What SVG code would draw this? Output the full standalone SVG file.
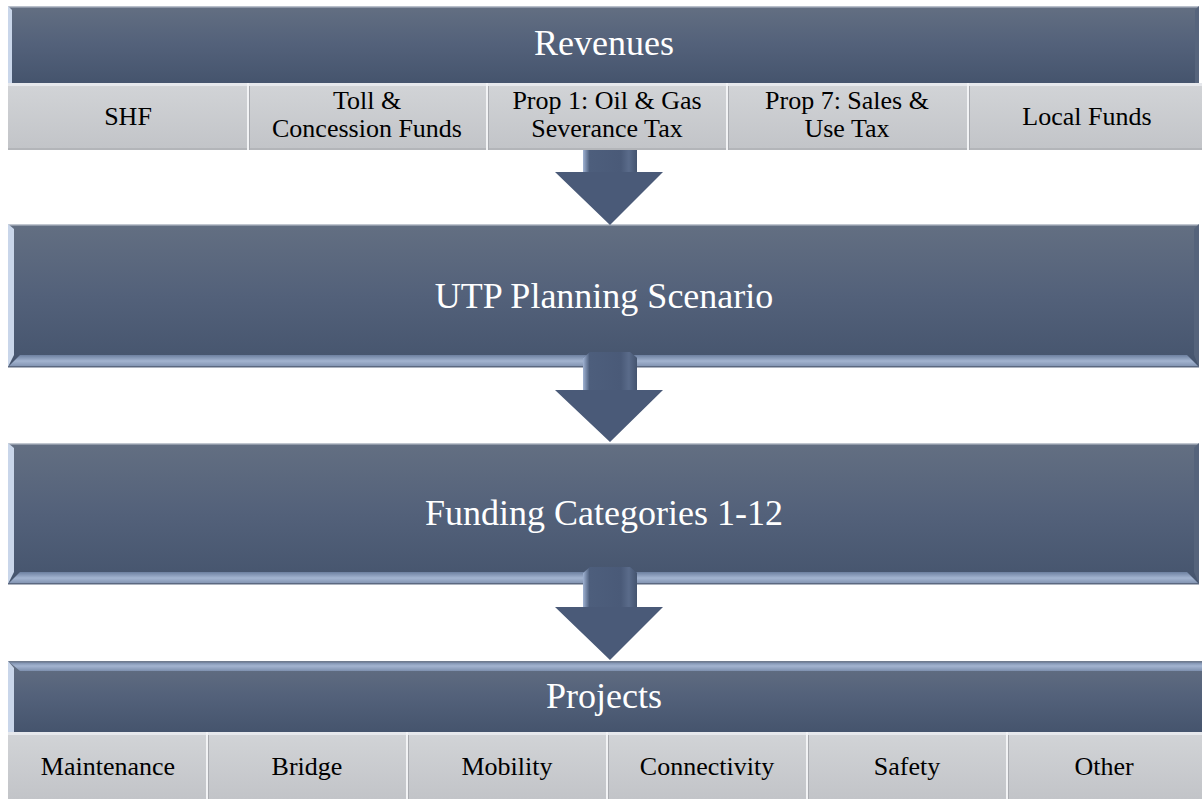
<svg xmlns="http://www.w3.org/2000/svg" width="1202" height="799" viewBox="0 0 1202 799">
<defs>
<linearGradient id="hdr" x1="0" y1="0" x2="0" y2="1">
<stop offset="0" stop-color="#636f82"/>
<stop offset="0.5" stop-color="#53617a"/>
<stop offset="1" stop-color="#45546d"/>
</linearGradient>
<linearGradient id="cell" x1="0" y1="0" x2="0" y2="1">
<stop offset="0" stop-color="#d2d4d7"/>
<stop offset="1" stop-color="#c2c4c8"/>
</linearGradient>
<linearGradient id="band" x1="0" y1="0" x2="0" y2="1">
<stop offset="0" stop-color="#6d80a0"/>
<stop offset="0.5" stop-color="#a3b4d0"/>
<stop offset="1" stop-color="#7e90ae"/>
</linearGradient>
<linearGradient id="shaft" x1="0" y1="0" x2="1" y2="0">
<stop offset="0" stop-color="#9fb2d2"/>
<stop offset="0.12" stop-color="#4d5e7c"/>
<stop offset="0.7" stop-color="#4a5a78"/>
<stop offset="0.85" stop-color="#5a6b8a"/>
<stop offset="1" stop-color="#44546f"/>
</linearGradient>
</defs>
<style>
.hdr{fill:url(#hdr)}
.cell{fill:url(#cell)}
.hl{fill:#e6e8ec}
.lb{fill:#c9d6ea}
.band{fill:url(#band)}
.div{stroke:#f2f3f5;stroke-width:2}
.divs{stroke:#a9abb0;stroke-width:1}
text{font-family:'Liberation Serif','Tinos','Times New Roman',Times,serif}
.ttl{font-size:36px;fill:#ffffff;text-anchor:middle}
.lbl{font-size:26px;fill:#000000;text-anchor:middle}
.arrow{fill:#4a5a78}
</style>
<rect width="1202" height="799" fill="#ffffff"/>

<g id="revenues">
<rect class="hdr" x="8" y="6" width="1191" height="77"/>
<rect x="8" y="6" width="1191" height="1.5" fill="#b9c0cb"/>
<polygon class="lb" points="8,6 12,10 12,83 8,83"/>
<polygon fill="#56647c" points="1199,6 1195,10 1195,83 1199,83"/>
<text class="ttl" x="604" y="55">Revenues</text>
</g>

<g id="revenue-cells">
<rect class="cell" x="8" y="83" width="1194" height="67"/>
<rect class="hl" x="8" y="83" width="1194" height="3"/>
<rect x="8" y="148" width="1194" height="2" fill="#b3b5b9"/>
<g>
<line class="divs" x1="249.5" y1="86" x2="249.5" y2="150"/>
<line class="div" x1="248" y1="83" x2="248" y2="150"/>
<line class="divs" x1="488.5" y1="86" x2="488.5" y2="150"/>
<line class="div" x1="487" y1="83" x2="487" y2="150"/>
<line class="divs" x1="728.5" y1="86" x2="728.5" y2="150"/>
<line class="div" x1="727" y1="83" x2="727" y2="150"/>
<line class="divs" x1="969.5" y1="86" x2="969.5" y2="150"/>
<line class="div" x1="968" y1="83" x2="968" y2="150"/>
</g>
<g id="rev-shf"><text class="lbl" x="128" y="125">SHF</text></g>
<g id="rev-toll"><text class="lbl" x="367" y="109">Toll &amp;</text><text class="lbl" x="367" y="137">Concession Funds</text></g>
<g id="rev-prop1"><text class="lbl" x="607" y="109">Prop 1: Oil &amp; Gas</text><text class="lbl" x="607" y="137">Severance Tax</text></g>
<g id="rev-prop7"><text class="lbl" x="847" y="109">Prop 7: Sales &amp;</text><text class="lbl" x="847" y="137">Use Tax</text></g>
<g id="rev-local"><text class="lbl" x="1087" y="125">Local Funds</text></g>
</g>

<g id="utp">
<rect class="hdr" x="8" y="224" width="1191" height="143"/>
<rect x="8" y="224" width="1191" height="1.5" fill="#c0c6cf"/>
<polygon class="lb" points="8,224 14,229 14,355 8,367"/>
<polygon class="band" points="8,367 20,355 1187,355 1199,367"/>
<polygon fill="#55637b" points="1199,224 1194,229 1194,355 1199,367"/>
<rect x="8" y="366" width="1191" height="1.5" fill="#5b6880"/>
<text class="ttl" x="604" y="308">UTP Planning Scenario</text>
</g>

<g id="funding">
<rect class="hdr" x="8" y="443" width="1191" height="141"/>
<rect x="8" y="443" width="1191" height="1.5" fill="#c0c6cf"/>
<polygon class="lb" points="8,443 14,448 14,572 8,584"/>
<polygon class="band" points="8,584 20,572 1187,572 1199,584"/>
<polygon fill="#55637b" points="1199,443 1194,448 1194,572 1199,584"/>
<rect x="8" y="583" width="1191" height="1.5" fill="#5b6880"/>
<text class="ttl" x="604" y="525">Funding Categories 1-12</text>
</g>

<g id="projects">
<rect class="hdr" x="8" y="661" width="1194" height="71"/>
<polygon class="band" points="8,661 1202,661 1202,671 20,671"/>
<rect x="8" y="661" width="1194" height="1.5" fill="#6f7b8e"/>
<polygon class="lb" points="8,661 14,668 14,732 8,732"/>
<text class="ttl" x="604" y="708">Projects</text>
</g>

<g id="project-cells">
<rect class="cell" x="8" y="732" width="1194" height="67"/>
<rect class="hl" x="8" y="732" width="1194" height="3"/>
<line class="divs" x1="208.5" y1="735" x2="208.5" y2="799"/>
<line class="div" x1="207" y1="732" x2="207" y2="799"/>
<line class="divs" x1="408.5" y1="735" x2="408.5" y2="799"/>
<line class="div" x1="407" y1="732" x2="407" y2="799"/>
<line class="divs" x1="608.5" y1="735" x2="608.5" y2="799"/>
<line class="div" x1="607" y1="732" x2="607" y2="799"/>
<line class="divs" x1="808.5" y1="735" x2="808.5" y2="799"/>
<line class="div" x1="807" y1="732" x2="807" y2="799"/>
<line class="divs" x1="1008.5" y1="735" x2="1008.5" y2="799"/>
<line class="div" x1="1007" y1="732" x2="1007" y2="799"/>
<g id="proj-maintenance"><text class="lbl" x="108" y="775">Maintenance</text></g>
<g id="proj-bridge"><text class="lbl" x="307" y="775">Bridge</text></g>
<g id="proj-mobility"><text class="lbl" x="507" y="775">Mobility</text></g>
<g id="proj-connectivity"><text class="lbl" x="707" y="775">Connectivity</text></g>
<g id="proj-safety"><text class="lbl" x="907" y="775">Safety</text></g>
<g id="proj-other"><text class="lbl" x="1104" y="775">Other</text></g>
</g>

<g id="connectors">
<g id="arrow1">
<polygon class="arrow" points="583,150 637,150 637,172 663,172 610,225 555,172 583,172"/>
<rect x="583" y="150" width="54" height="22" fill="url(#shaft)"/>
</g>
<g id="arrow2">
<polygon class="arrow" points="583,358 590,352 630,352 637,358 637,390 663,390 610,442 555,390 583,390"/>
<polygon fill="url(#shaft)" points="583,358 590,352 630,352 637,358 637,390 583,390"/>
</g>
<g id="arrow3">
<polygon class="arrow" points="583,573 590,567 630,567 637,573 637,607 663,607 610,660 555,607 583,607"/>
<polygon fill="url(#shaft)" points="583,573 590,567 630,567 637,573 637,607 583,607"/>
</g>
</g>
</svg>
